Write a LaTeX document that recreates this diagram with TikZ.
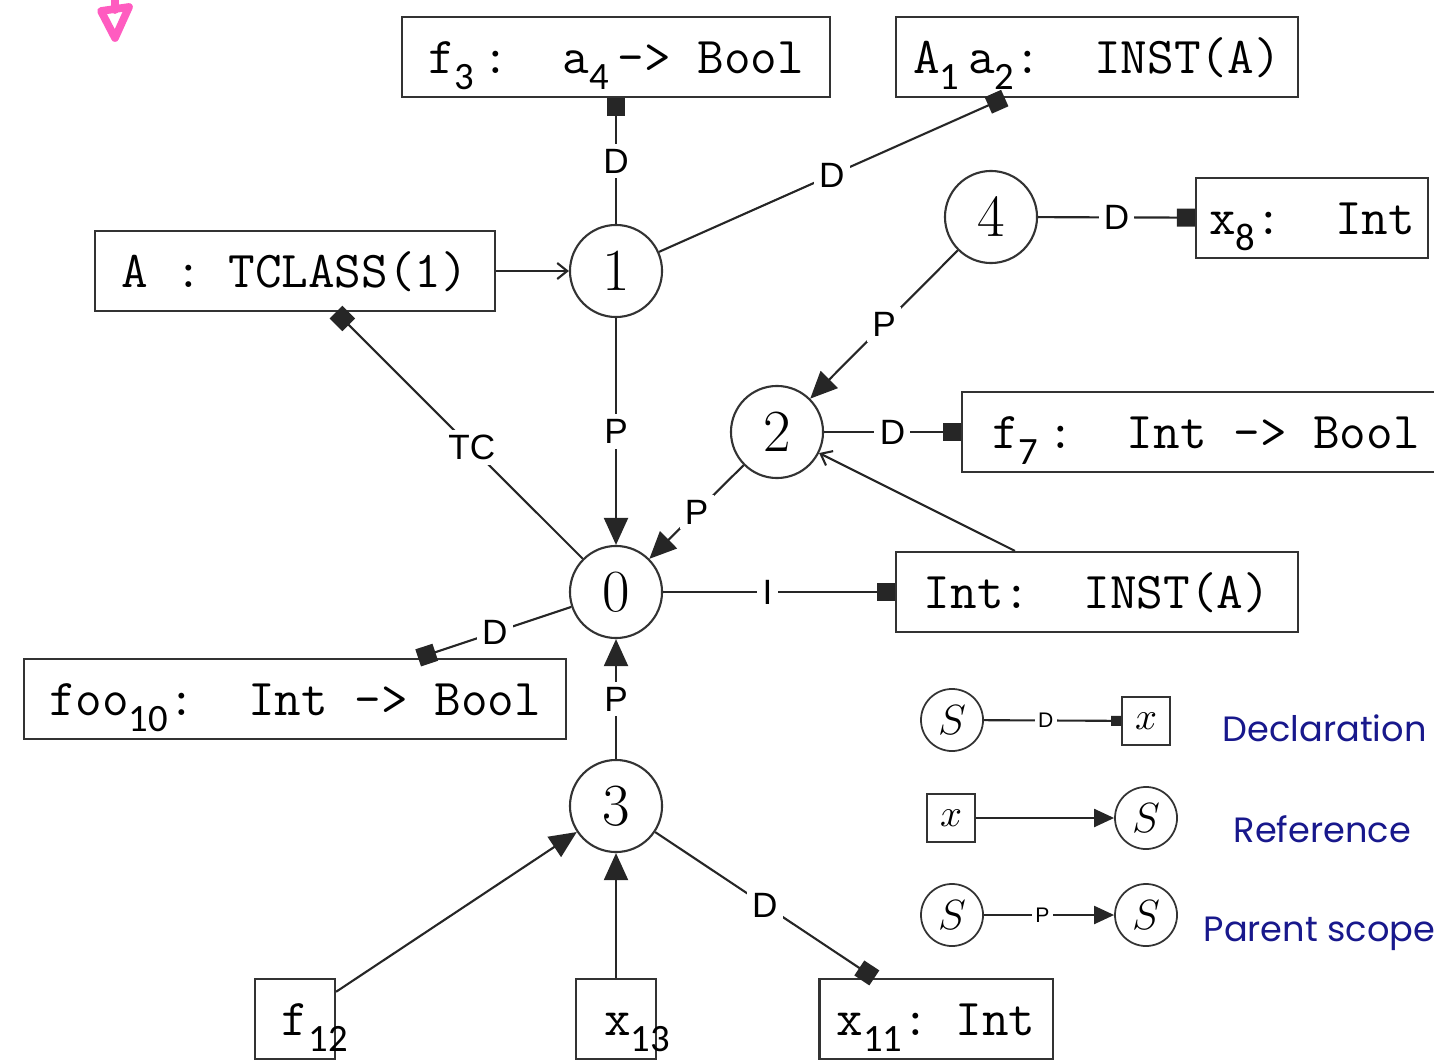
\documentclass[tikz,border=0pt]{standalone}
\usepackage{fontspec}
\usepackage{tikz}
\usetikzlibrary{arrows.meta}
\newfontfamily\subfont{Carlito}
\newfontfamily\edgefont{Liberation Sans}
\newfontfamily\legendfont{Poppins}
\definecolor{legendblue}{RGB}{24,24,140}
\definecolor{markpink}{RGB}{255,92,192}
\newcommand{\sub}[1]{\smash{\raisebox{-0.16cm}{\subfont\fontsize{11}{13}\selectfont #1}}}

\begin{document}
\begin{tikzpicture}[x=0.01cm, y=-0.01cm,
    scopenode/.style={circle, draw=black!80, line width=0.6pt, minimum size=0.92cm, inner sep=0pt, font=\fontsize{17}{20}\selectfont},
    declbox/.style={draw=black!80, line width=0.6pt, minimum height=0.8cm, inner sep=0pt, text height=0.32cm, text depth=0cm, font=\ttfamily\fontsize{14.7}{17}\selectfont},
    edgelbl/.style={fill=white, inner sep=1.5pt, font=\edgefont\fontsize{10}{12}\selectfont},
    conn/.style={draw=black!85, line width=0.6pt},
    dline/.style={conn, -{Square[length=1.8mm,width=1.8mm]}},
    pline/.style={conn, -{Triangle[length=2.7mm,width=2.4mm]}},
    rline/.style={conn, -{Straight Barb[length=1mm,width=1.6mm]}},
    lscope/.style={circle, draw=black!80, line width=0.5pt, minimum size=0.62cm, inner sep=0pt, font=\fontsize{13}{15}\selectfont},
    lbox/.style={draw=black!80, line width=0.5pt, minimum size=0.48cm, inner sep=0pt, font=\fontsize{11}{13}\selectfont},
    llbl/.style={fill=white, inner sep=1pt, font=\edgefont\fontsize{6}{7}\selectfont},
    legendtext/.style={anchor=base west, inner sep=0pt, text=legendblue, font=\legendfont\fontsize{10}{12}\selectfont}]
    \clip (0,0) rectangle (1434,1061);

    % Pink marker
    \draw[markpink, line width=2.2pt, line cap=round] (115,0) -- (115,10);
    \draw[markpink, line width=2.2pt, line join=round] (101,11) -- (129,7) -- (115,38) -- cycle;

    % Scopes
    \node[scopenode] (n0) at (616,592) {0};
    \node[scopenode] (n1) at (616,271) {1};
    \node[scopenode] (n2) at (777,432) {2};
    \node[scopenode] (n3) at (616,806) {3};
    \node[scopenode] (n4) at (991,217) {4};

    % Declarations and references
    \node[declbox, minimum width=4.28cm] (f3box) at (616,57) {f\sub{3}\,:~~a\sub{4}\,->~Bool};
    \node[declbox, minimum width=4.01cm] (Abox) at (1097,57) {A\sub{1}\,a\sub{2}:~~INST(A)};
    \node[declbox, minimum width=2.32cm] (x8box) at (1312,218) {x\sub{8}:~~Int};
    \node[declbox, minimum width=4.0cm] (TCbox) at (295,271) {A~:~TCLASS(1)};
    \node[declbox, minimum width=4.88cm] (f7box) at (1206,432) {f\sub{7}\,:~~Int~->~Bool};
    \node[declbox, minimum width=4.01cm] (Intbox) at (1097,592) {Int:~~INST(A)};
    \node[declbox, minimum width=5.42cm] (foobox) at (295,699) {foo\sub{10}:~~Int~->~Bool};
    \node[declbox, minimum width=0.8cm] (f12box) at (295,1019) {\makebox[0pt][l]{\hspace{-0.13cm}f\sub{12}}};
    \node[declbox, minimum width=0.8cm] (x13box) at (616,1019) {\makebox[0pt][l]{\hspace{-0.12cm}x\sub{13}}};
    \node[declbox, minimum width=2.33cm] (x11box) at (936,1019) {x\sub{11}:~Int};

    % Parent edges
    \foreach \a/\b in {n1/n0, n4/n2, n2/n0, n3/n0} {
        \draw[pline] (\a) -- node[edgelbl] {P} (\b);
    }

    % Declaration edges
    \foreach \a/\b in {n1/f3box, n1/Abox, n4/x8box, n2/f7box, n0/foobox, n3/x11box} {
        \draw[dline] (\a) -- node[edgelbl] {D} (\b);
    }
    \draw[dline] (n0) -- node[edgelbl, pos=0.45] {I} (Intbox);
    \draw[dline] (n0) -- node[edgelbl, pos=0.45] {TC} (TCbox);

    % References
    \draw[rline] (TCbox) -- (n1);
    \draw[rline] ([xshift=-0.82cm]Intbox.north) -- (n2);
    \foreach \a in {f12box, x13box} {
        \draw[pline] (\a) -- (n3);
    }

    % Legend
    \node[lscope] (ls1) at (952,720) {$S$};
    \node[lbox] (lx1) at (1146,721) {$x$};
    \draw[conn, -{Square[length=1mm,width=1mm]}] (ls1) -- node[llbl, pos=0.45] {D} (lx1);
    \node[legendtext] (legdecl) at (1222,741) {Declaration};

    \node[lbox] (lx2) at (951,818) {$x$};
    \node[lscope] (ls2) at (1146,818) {$S$};
    \draw[conn, -{Triangle[length=2mm,width=1.8mm]}] (lx2) -- (ls2);
    \node[legendtext] (legref) at (1233,842) {Reference};

    \node[lscope] (ls3) at (952,915) {$S$};
    \node[lscope] (ls4) at (1146,915) {$S$};
    \draw[conn, -{Triangle[length=2mm,width=1.8mm]}] (ls3) -- node[llbl, pos=0.45] {P} (ls4);
    \node[legendtext] (legpar) at (1203,941) {Parent scope};
\end{tikzpicture}
\end{document}
